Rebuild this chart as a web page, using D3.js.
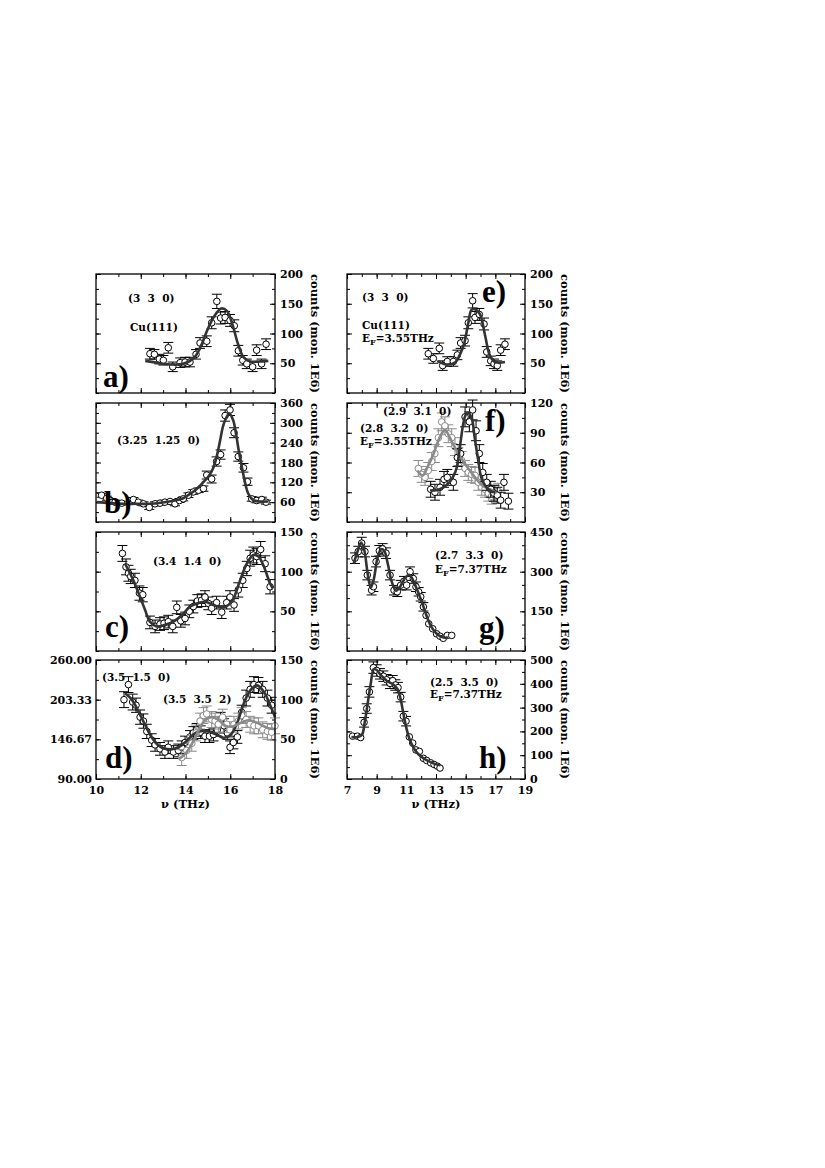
<!DOCTYPE html>
<html lang="en">
<head>
<meta charset="UTF-8">
<title>Phonon scans</title>
<script src="https://d3js.org/d3.v7.min.js"></script>
<style>
  body{margin:0;background:#fff;}
  svg text{font-family:"DejaVu Serif",serif;font-weight:bold;fill:#000;}
  .tick text{font-size:11px;}
  .tick line{stroke:#000;stroke-width:1;}
  .domain{display:none;}
  .frame{fill:none;stroke:#000;stroke-width:1.3;}
  .fit{fill:none;stroke-width:2.6;stroke-linejoin:round;}
</style>
</head>
<body>
<script>
// ---- data: [nu (THz), counts, error] ----
const aPts = [[12.41,66,9],[12.61,65,8],[12.83,57,8],[13.01,55,8],[13.23,76,9],[13.43,44,8],[13.76,51,8],[13.98,52,8],[14.2,52,8],[14.47,65,8],[14.65,84,9],[14.95,87,9],[15.17,118,10],[15.4,154,12],[15.57,126,10],[15.77,127,10],[15.99,122,10],[16.18,113,10],[16.36,71,9],[16.56,55,8],[16.74,49,8],[17.0,44,8],[17.18,72,9],[17.4,49,8],[17.6,82,9]];
const aFit = [[12.2,54],[12.7,51],[13.3,48],[13.9,49],[14.4,60],[14.7,80],[15.0,108],[15.3,130],[15.6,142],[15.85,138],[16.1,115],[16.35,82],[16.6,60],[16.9,53],[17.3,53],[17.7,54]];

const bPts = [[10.25,81,6],[10.48,72,6],[10.66,65,6],[10.85,60,6],[11.15,57,6],[11.67,68,6],[11.89,60,6],[12.12,55,6],[12.38,44,6],[12.64,55,6],[12.86,57,6],[13.08,60,6],[13.31,62,6],[13.53,55,6],[13.73,65,6],[13.9,70,6],[14.13,81,7],[14.35,91,7],[14.58,96,7],[14.8,101,8],[14.95,142,12],[15.17,130,12],[15.39,183,14],[15.57,204,14],[15.77,322,17],[15.99,339,17],[16.17,270,15],[16.36,198,14],[16.59,164,13],[16.77,122,11],[16.96,70,7],[17.18,65,7],[17.41,68,7],[17.6,60,6]];
const bFit = [[10.03,60],[10.6,57],[11.22,55],[11.8,55],[12.41,55],[12.9,58],[13.46,64],[13.9,72],[14.2,85],[14.5,100],[14.8,121],[15.05,140],[15.25,165],[15.4,200],[15.54,244],[15.66,285],[15.77,308],[15.96,328],[16.14,306],[16.25,270],[16.36,224],[16.48,180],[16.59,142],[16.7,108],[16.81,85],[17.03,66],[17.3,62],[17.7,62]];

const cPts = [[11.18,123,10],[11.34,106,10],[11.45,98,10],[11.55,94,9],[11.74,89,9],[11.94,73,9],[12.09,71,9],[12.41,36,8],[12.64,31,8],[12.86,34,8],[13.04,35,8],[13.23,37,8],[13.43,31,8],[13.61,55,8],[13.79,38,8],[13.98,41,8],[14.17,50,8],[14.35,56,8],[14.53,63,8],[14.72,64,8],[14.87,68,8],[15.02,60,8],[15.17,54,8],[15.39,61,8],[15.62,49,8],[15.84,61,8],[15.99,68,8],[16.17,58,8],[16.36,77,9],[16.56,89,9],[16.74,104,9],[16.89,117,10],[17.03,121,10],[17.18,119,10],[17.36,128,10],[17.56,110,10],[17.78,81,9]];
const cFit = [[11.3,110],[11.67,89],[11.97,68],[12.19,52],[12.41,37],[12.71,31],[13.08,33],[13.46,37],[13.83,45],[14.2,56],[14.5,60],[14.87,62],[15.25,58],[15.62,55],[15.92,58],[16.14,66],[16.44,89],[16.74,110],[17.03,121],[17.26,119],[17.48,108],[17.78,85],[17.9,79]];

const dPts = [[11.25,100,10],[11.45,119,10],[11.64,97,10],[11.79,93,9],[11.97,78,9],[12.12,73,9],[12.27,60,9],[12.49,49,8],[12.64,43,8],[12.86,38,8],[13.08,34,8],[13.23,40,8],[13.46,34,8],[13.68,36,8],[13.83,40,8],[13.98,46,8],[14.2,53,8],[14.35,58,8],[14.5,62,8],[14.68,59,8],[14.87,54,8],[15.07,54,8],[15.25,56,8],[15.42,62,8],[15.57,75,9],[15.72,67,9],[15.87,58,8],[15.99,40,8],[16.14,46,8],[16.32,53,8],[16.51,84,9],[16.71,102,10],[16.89,113,10],[17.06,119,10],[17.26,118,10],[17.45,113,10],[17.66,102,10],[17.85,93,10]];
const dFit = [[11.3,108],[11.6,100],[11.9,85],[12.2,68],[12.5,52],[12.8,42],[13.1,38],[13.5,38],[13.9,44],[14.3,55],[14.6,60],[15.0,60],[15.4,56],[15.7,52],[16.0,55],[16.3,70],[16.6,95],[16.9,112],[17.2,118],[17.5,110],[17.8,92],[18.0,78]];
const dGrayPts = [[13.83,27,10],[14.05,36,10],[14.28,45,10],[14.47,58,10],[14.65,73,10],[14.8,80,10],[14.95,82,10],[15.17,75,10],[15.32,73,10],[15.47,69,10],[15.66,78,10],[15.84,69,10],[15.99,62,10],[16.17,69,10],[16.36,73,10],[16.51,80,10],[16.71,75,10],[16.89,69,10],[17.06,67,10],[17.26,67,10],[17.45,62,10],[17.66,60,10],[17.85,59,10],[18.0,67,10]];
const dGrayFit = [[13.7,25],[14.0,32],[14.3,45],[14.6,62],[14.9,75],[15.2,78],[15.5,74],[15.8,67],[16.1,66],[16.4,70],[16.8,74],[17.1,72],[17.4,68],[17.7,64],[18.0,63]];

const ePts = [[12.48,66,9],[12.82,58,8],[13.22,75,9],[13.45,46,8],[13.76,53,8],[14.17,53,8],[14.44,64,8],[14.66,84,9],[14.96,88,9],[15.18,118,10],[15.47,155,12],[15.63,127,10],[15.92,132,10],[16.24,116,10],[16.42,69,9],[16.69,54,8],[16.91,49,8],[17.13,46,8],[17.36,72,9],[17.65,82,9]];
const eFit = [[13.09,54],[13.72,48],[14.28,51],[14.62,65],[14.89,82],[15.18,118],[15.4,140],[15.7,140],[15.97,132],[16.3,98],[16.6,65],[16.91,53],[17.27,51],[17.65,52]];

const fPts = [[12.64,33,8],[12.93,30,8],[13.27,35,8],[13.54,43,8],[13.76,45,8],[14.17,40,8],[14.44,65,9],[14.66,69,9],[14.96,106,10],[15.25,101,10],[15.47,113,10],[15.7,92,10],[15.92,69,9],[16.15,50,9],[16.42,40,8],[16.69,33,8],[16.91,29,8],[17.13,27,8],[17.36,22,8],[17.58,40,8],[17.88,21,8]];
const fFit = [[12.6,32],[13.0,32],[13.5,35],[13.9,40],[14.2,47],[14.4,55],[14.65,80],[14.85,100],[15.0,108],[15.15,110],[15.4,105],[15.6,86],[15.85,62],[16.05,45],[16.35,36],[16.7,31],[17.0,30]];
const fGrayPts = [[11.81,54,8],[12.03,48,8],[12.26,45,8],[12.48,52,8],[12.71,61,9],[12.93,69,9],[13.16,85,9],[13.38,101,9],[13.6,97,9],[13.83,89,9],[14.06,85,9],[14.28,76,9],[14.51,66,9],[14.73,62,9],[14.96,54,8],[15.18,50,8],[15.4,48,8],[15.63,47,8],[15.85,40,8],[16.08,35,8],[16.3,33,8],[16.53,29,8],[16.75,26,8],[16.98,29,8],[17.2,31,8]];
const fGrayFit = [[11.74,52],[12.1,47],[12.45,56],[12.82,68],[13.1,80],[13.38,89],[13.61,93],[13.9,86],[14.17,78],[14.62,66],[15.18,54],[15.63,45],[16.19,36],[16.64,33],[17.09,29]];

const gPts = [[7.54,351,20],[7.76,376,20],[7.99,408,22],[8.21,376,20],[8.37,287,18],[8.66,230,18],[8.78,243,18],[8.96,338,20],[9.18,379,20],[9.4,386,20],[9.63,370,20],[9.9,287,18],[10.17,230,18],[10.39,224,18],[10.62,249,18],[10.84,264,18],[11.02,249,18],[11.25,300,18],[11.47,274,18],[11.65,243,18],[11.83,224,16],[11.97,205,16],[12.15,167,16],[12.33,135,0],[12.51,103,0],[12.78,84,0],[13.04,65,0],[13.27,56,0],[13.49,48,0],[13.76,59,0],[14.06,59,0]];
const gFit = [[7.45,330],[7.7,375],[7.95,410],[8.15,385],[8.4,290],[8.6,240],[8.8,270],[9.05,350],[9.3,385],[9.5,380],[9.75,330],[10.0,265],[10.3,228],[10.6,245],[10.9,275],[11.2,288],[11.45,268],[11.7,235],[11.95,200],[12.2,160],[12.45,120],[12.7,90],[13.0,68],[13.3,55],[13.6,50],[13.8,52]];

const hPts = [[7.38,180,0],[7.7,180,0],[7.92,174,0],[8.15,238,20],[8.33,296,20],[8.51,366,22],[8.78,468,24],[9.0,456,24],[9.22,442,22],[9.45,432,22],[9.67,417,22],[9.9,402,22],[10.08,413,22],[10.26,395,22],[10.44,384,22],[10.62,344,20],[10.8,264,20],[10.98,243,20],[11.2,177,0],[11.43,151,0],[11.65,122,0],[11.88,116,0],[12.15,87,0],[12.37,78,0],[12.64,68,0],[12.87,61,0],[13.09,54,0],[13.27,46,0]];
const hFit = [[7.3,176],[7.7,176],[8.0,185],[8.2,240],[8.4,320],[8.6,400],[8.8,462],[9.0,458],[9.3,435],[9.7,412],[10.1,398],[10.4,378],[10.6,340],[10.8,275],[11.0,215],[11.2,170],[11.5,130],[11.8,105],[12.2,85],[12.6,72],[13.0,62],[13.3,58]];

// tick labels
const xTicksLeft = [10,12,14,16,18];
const xTicksRight = [7,9,11,13,15,17,19];
const aTicks = [50,100,150,200];
const bTicks = [60,120,180,240,300,360];
const cTicks = [50,100,150];
const dTicks = [0,50,100,150];
const dLeftTicks = [90,146.67,203.33,260];
const eTicks = [50,100,150,200];
const fTicks = [30,60,90,120];
const gTicks = [150,300,450];
const hTicks = [0,100,200,300,400,500];

const BLACK = "#000", GRAY = "#8a8a8a", FITDARK = "#333";

// ---- layout ----
const width = 825, height = 1168;
const colX = [[96,275],[347,525]];
const colDomain = [[10,18],[7,19]];
const rowTop = [274,403,532,660];
const panelH = 119;

const panels = [
  {col:0,row:0,yMax:200,ticks:aTicks,minor:25,series:[{pts:aPts,fit:aFit,c:BLACK}],
   label:"a)",lx:103,ly:387,notes:[["(3  3  0)",128,302],["Cu(111)",130,331]]},
  {col:0,row:1,yMax:360,ticks:bTicks,minor:30,series:[{pts:bPts,fit:bFit,c:BLACK}],
   label:"b)",lx:104,ly:513,notes:[["(3.25  1.25  0)",117,444]]},
  {col:0,row:2,yMax:150,ticks:cTicks,minor:25,series:[{pts:cPts,fit:cFit,c:BLACK}],
   label:"c)",lx:105,ly:637,notes:[["(3.4  1.4  0)",153,565]]},
  {col:0,row:3,yMax:150,ticks:dTicks,minor:25,series:[{pts:dPts,fit:dFit,c:BLACK},{pts:dGrayPts,fit:dGrayFit,c:GRAY}],
   label:"d)",lx:105,ly:768,notes:[["(3.5  1.5  0)",102,681],["(3.5  3.5  2)",163,703]],leftTicks:dLeftTicks},
  {col:1,row:0,yMax:200,ticks:eTicks,minor:25,series:[{pts:ePts,fit:eFit,c:BLACK}],
   label:"e)",lx:482,ly:302,notes:[["(3  3  0)",362,301],["Cu(111)",362,329],["EF=3.55THz",362,342]]},
  {col:1,row:1,yMax:120,ticks:fTicks,minor:15,series:[{pts:fGrayPts,fit:fGrayFit,c:GRAY},{pts:fPts,fit:fFit,c:BLACK}],
   label:"f)",lx:485,ly:431,notes:[["(2.9  3.1  0)",383,415],["(2.8  3.2  0)",360,432],["EF=3.55THz",360,445]]},
  {col:1,row:2,yMax:450,ticks:gTicks,minor:50,series:[{pts:gPts,fit:gFit,c:BLACK}],
   label:"g)",lx:479,ly:638,notes:[["(2.7  3.3  0)",435,559],["EF=7.37THz",435,573]]},
  {col:1,row:3,yMax:500,ticks:hTicks,minor:50,series:[{pts:hPts,fit:hFit,c:BLACK}],
   label:"h)",lx:479,ly:768,notes:[["(2.5  3.5  0)",430,686],["EF=7.37THz",430,698]]}
];

const svg = d3.select("body").append("svg")
  .attr("width", width).attr("height", height)
  .attr("viewBox", `0 0 ${width} ${height}`);

function drawPanel(p) {
  const [x0, x1] = colX[p.col];
  const top = rowTop[p.row], bot = top + panelH;
  const dom = colDomain[p.col];
  const x = d3.scaleLinear().domain(dom).range([x0, x1]);
  const y = d3.scaleLinear().domain([0, p.yMax]).range([bot, top]);
  const g = svg.append("g");

  // inward ticks, minor then major, on all four sides
  const xMinor = d3.range(dom[0], dom[1] + 0.01, 1);
  const xMajor = d3.range(dom[0], dom[1] + 0.01, 2);
  const yMinor = d3.range(0, p.yMax + 0.01, p.minor);
  const yMajor = p.ticks;
  const add = (axis, tx, ty) => g.append("g").attr("transform", `translate(${tx},${ty})`).call(axis);

  add(d3.axisBottom(x).tickValues(xMinor).tickSize(-3).tickFormat(""), 0, bot);
  add(d3.axisTop(x).tickValues(xMinor).tickSize(-3).tickFormat(""), 0, top);
  add(d3.axisTop(x).tickValues(xMajor).tickSize(-5).tickFormat(""), 0, top);
  add(d3.axisLeft(y).tickValues(yMinor).tickSize(-3).tickFormat(""), x0, 0);
  add(d3.axisLeft(y).tickValues(yMajor).tickSize(-5).tickFormat(""), x0, 0);
  add(d3.axisRight(y).tickValues(yMinor).tickSize(-3).tickFormat(""), x1, 0);
  add(d3.axisRight(y).tickValues(yMajor).tickSize(-5).tickPadding(5), x1, 0);

  if (p.row === 3) {
    const lab = p.col === 0 ? xTicksLeft : xTicksRight;
    add(d3.axisBottom(x).tickValues(lab).tickSize(-5).tickPadding(7).tickFormat(d3.format("d")), 0, bot);
  } else {
    add(d3.axisBottom(x).tickValues(xMajor).tickSize(-5).tickFormat(""), 0, bot);
  }

  if (p.leftTicks) {
    const y2 = d3.scaleLinear().domain([90, 260]).range([bot, top]);
    add(d3.axisLeft(y2).tickValues(p.leftTicks).tickSize(0).tickPadding(4).tickFormat(d3.format(".2f")), x0, 0);
  }

  // data: error bars, circles
  p.series.forEach(s => {
    const eg = g.append("g").attr("stroke", s.c).attr("stroke-width", 1);
    s.pts.filter(d => d[2] > 0).forEach(d => {
      const cx = x(d[0]), ya = y(d[1] + d[2]), yb = y(d[1] - d[2]);
      eg.append("line").attr("x1", cx).attr("x2", cx).attr("y1", ya).attr("y2", yb);
      eg.append("line").attr("x1", cx - 5).attr("x2", cx + 5).attr("y1", ya).attr("y2", ya);
      eg.append("line").attr("x1", cx - 5).attr("x2", cx + 5).attr("y1", yb).attr("y2", yb);
    });
    g.append("g").selectAll("circle").data(s.pts).join("circle")
      .attr("cx", d => x(d[0])).attr("cy", d => y(d[1])).attr("r", 3.3)
      .attr("fill", "#fff").attr("stroke", s.c).attr("stroke-width", 1);
  });

  // fitted curves
  const line = d3.line().x(d => x(d[0])).y(d => y(d[1])).curve(d3.curveCatmullRom.alpha(0.5));
  p.series.forEach(s => {
    g.append("path").attr("class", "fit").attr("d", line(s.fit))
      .attr("stroke", s.c === GRAY ? GRAY : FITDARK);
  });

  // frame
  g.append("rect").attr("class", "frame")
    .attr("x", x0).attr("y", top).attr("width", x1 - x0).attr("height", bot - top);

  // texts
  g.append("text").text(p.label).attr("x", p.lx).attr("y", p.ly)
    .style("font-family", '"Liberation Serif", serif').style("font-size", "31px");

  p.notes.forEach(([t, nx, ny]) => {
    const tx = g.append("text").attr("x", nx).attr("y", ny)
      .style("font-size", "10.5px").style("white-space", "pre");
    if (t.startsWith("EF")) {
      tx.append("tspan").text("E");
      tx.append("tspan").text("F").attr("dy", 3).style("font-size", "8px");
      tx.append("tspan").text(t.slice(2)).attr("dy", -3);
    } else {
      tx.text(t);
    }
  });

  // right axis title
  const tcx = p.col === 0 ? 315 : 565;
  g.append("text").text("counts (mon. 1E6)")
    .attr("transform", `translate(${tcx},${(top + bot) / 2}) rotate(90)`)
    .attr("text-anchor", "middle").attr("dominant-baseline", "central")
    .style("font-size", "11.5px");

  if (p.row === 3) {
    g.append("text").text("\u03bd (THz)")
      .attr("x", (x0 + x1) / 2).attr("y", 808).attr("text-anchor", "middle")
      .style("font-size", "11.5px");
  }
}

panels.forEach(drawPanel);
</script>
</body>
</html>
